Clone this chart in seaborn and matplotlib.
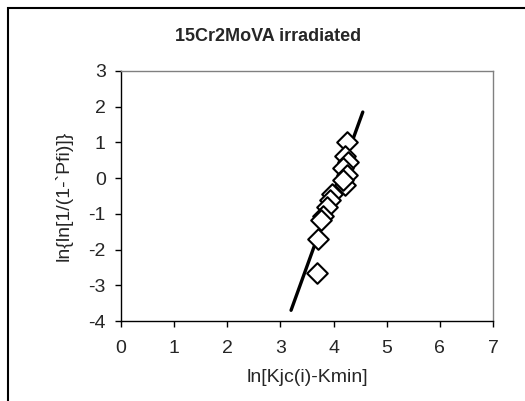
import pandas as pd
import numpy as np
import matplotlib
matplotlib.use("Agg")
import matplotlib.pyplot as plt
import seaborn as sns
from matplotlib.patches import Rectangle

# data
ln_k = [4.25, 4.22, 4.28, 4.18, 4.25, 4.22, 4.17, 3.97, 3.93, 3.88, 3.80, 3.76, 3.70, 3.68]
ln_pf = [1.00, 0.62, 0.45, 0.28, 0.10, -0.18, -0.05, -0.45, -0.60, -0.82, -1.05, -1.18, -1.70, -2.65]

fit_x = [3.2, 4.55]
fit_y = [-3.7, 1.85]

x_ticks = [0, 1, 2, 3, 4, 5, 6, 7]
y_ticks = [-4, -3, -2, -1, 0, 1, 2, 3]

df = pd.DataFrame({"lnK": ln_k, "lnPf": ln_pf})
fit = pd.DataFrame({"x": fit_x, "y": fit_y})

sns.set_style("white")
plt.rcParams['font.family'] = ['Liberation Sans', 'DejaVu Sans']
plt.rcParams['axes.unicode_minus'] = False

fig = plt.figure(figsize=(5.25, 4.01), dpi=100)
ax = fig.add_axes([0.2305, 0.1995, 0.7085, 0.6235])

sns.lineplot(data=fit, x="x", y="y", color="black", linewidth=2.4, ax=ax)
sns.scatterplot(data=df, x="lnK", y="lnPf", marker="D", s=110,
                facecolor="white", edgecolor="black", linewidth=1.5, ax=ax, zorder=3)

ax.set_xlim(0, 7)
ax.set_ylim(-4, 3)
ax.set_xticks(x_ticks)
ax.set_yticks(y_ticks)
ax.tick_params(axis="both", labelsize=14, direction="out", length=4, width=1,
               color="black", bottom=True, left=True)
ax.tick_params(axis="x", pad=10)
ax.tick_params(axis="y", pad=7)

for side in ["top", "right"]:
    ax.spines[side].set_color("#808080")
    ax.spines[side].set_linewidth(1)
for side in ["left", "bottom"]:
    ax.spines[side].set_color("black")
    ax.spines[side].set_linewidth(1)

ax.set_xlabel("ln[Kjc(i)-Kmin]", fontsize=14)
ax.set_ylabel("ln{ln[1/(1-`Pfi)]}", fontsize=14)
ax.yaxis.set_label_coords(-0.13, 0.5)
ax.xaxis.set_label_coords(0.5, -0.19)

fig.text(0.51, 0.908, "15Cr2MoVA irradiated", ha="center", va="center",
         fontsize=13, fontweight="bold")

# outer chart border (cropped on right and bottom)
fig.patches.append(Rectangle((8 / 525, -0.1), 1.2, 1.1 - 8 / 401, transform=fig.transFigure,
                             fill=False, edgecolor="black", linewidth=1.5, clip_on=False))

fig.savefig("out.png", dpi=100)
